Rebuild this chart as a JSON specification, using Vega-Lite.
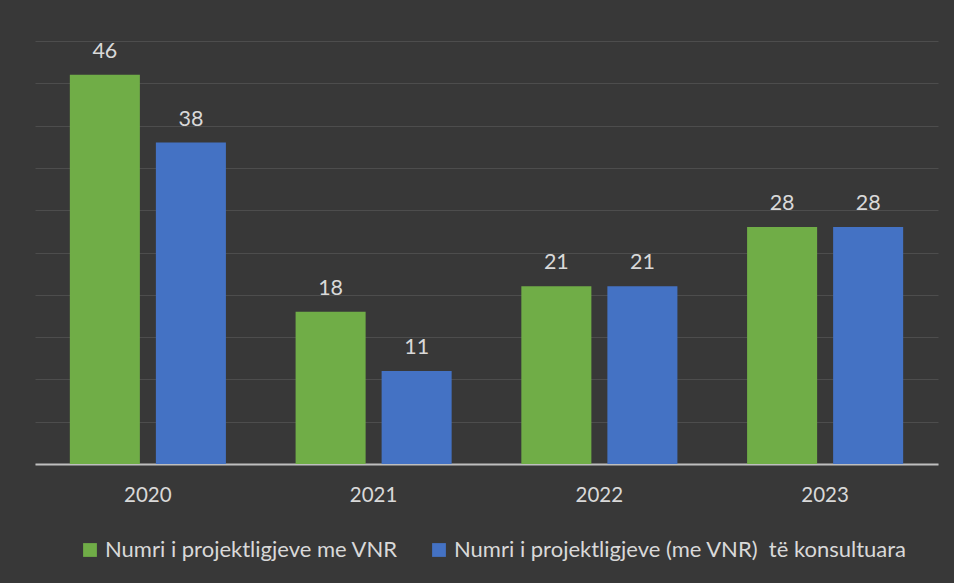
{
  "$schema": "https://vega.github.io/schema/vega-lite/v6.json",
  "width": 903,
  "height": 423,
  "autosize": {"type": "none"},
  "padding": {"left": 35, "top": 41, "right": 16, "bottom": 119},
  "background": "#383838",
  "data": {
    "values": [
      {"year": "2020", "series": "Numri i projektligjeve me VNR", "value": 46},
      {"year": "2020", "series": "Numri i projektligjeve (me VNR) \u00a0të konsultuara", "value": 38},
      {"year": "2021", "series": "Numri i projektligjeve me VNR", "value": 18},
      {"year": "2021", "series": "Numri i projektligjeve (me VNR) \u00a0të konsultuara", "value": 11},
      {"year": "2022", "series": "Numri i projektligjeve me VNR", "value": 21},
      {"year": "2022", "series": "Numri i projektligjeve (me VNR) \u00a0të konsultuara", "value": 21},
      {"year": "2023", "series": "Numri i projektligjeve me VNR", "value": 28},
      {"year": "2023", "series": "Numri i projektligjeve (me VNR) \u00a0të konsultuara", "value": 28}
    ]
  },
  "encoding": {
    "x": {
      "field": "year", "type": "nominal", "title": null,
      "scale": {"paddingInner": 0, "paddingOuter": 0},
      "axis": {"labelAngle": 0, "labelFont": "Lato", "labelFontSize": 20.5, "labelColor": "#d9d9d9", "labelPadding": 21, "ticks": false, "domainColor": "#bfbfbf", "domainWidth": 2, "grid": false}
    },
    "xOffset": {
      "field": "series", "type": "nominal",
      "sort": ["Numri i projektligjeve me VNR", "Numri i projektligjeve (me VNR) \u00a0të konsultuara"],
      "scale": {"paddingInner": 0.186, "paddingOuter": 0.405}
    },
    "y": {
      "field": "value", "type": "quantitative", "title": null,
      "scale": {"domain": [0, 50]},
      "axis": {"values": [0,5,10,15,20,25,30,35,40,45,50], "labels": false, "ticks": false, "domain": false, "gridColor": "#4d4d4d", "gridWidth": 1}
    }
  },
  "layer": [
    {
      "mark": {"type": "bar"},
      "encoding": {
        "color": {
          "field": "series", "type": "nominal", "title": null,
          "sort": ["Numri i projektligjeve me VNR", "Numri i projektligjeve (me VNR) \u00a0të konsultuara"],
          "scale": {"range": ["#70ad47", "#4472c4"]},
          "legend": {
            "orient": "none", "direction": "horizontal", "legendX": 44, "legendY": 498,
            "symbolType": "square", "symbolSize": 190, "symbolStrokeWidth": 0, "symbolOpacity": 1,
            "labelFont": "Lato", "labelFontSize": 22, "labelColor": "#d9d9d9", "labelOffset": 4,
            "columnPadding": 30, "labelLimit": 600
          }
        }
      }
    },
    {
      "mark": {"type": "text", "dy": -12, "baseline": "bottom", "font": "Lato", "fontSize": 21.5, "color": "#d9d9d9"},
      "encoding": {
        "text": {"field": "value", "type": "quantitative"}
      }
    }
  ],
  "config": {"view": {"stroke": null}}
}
